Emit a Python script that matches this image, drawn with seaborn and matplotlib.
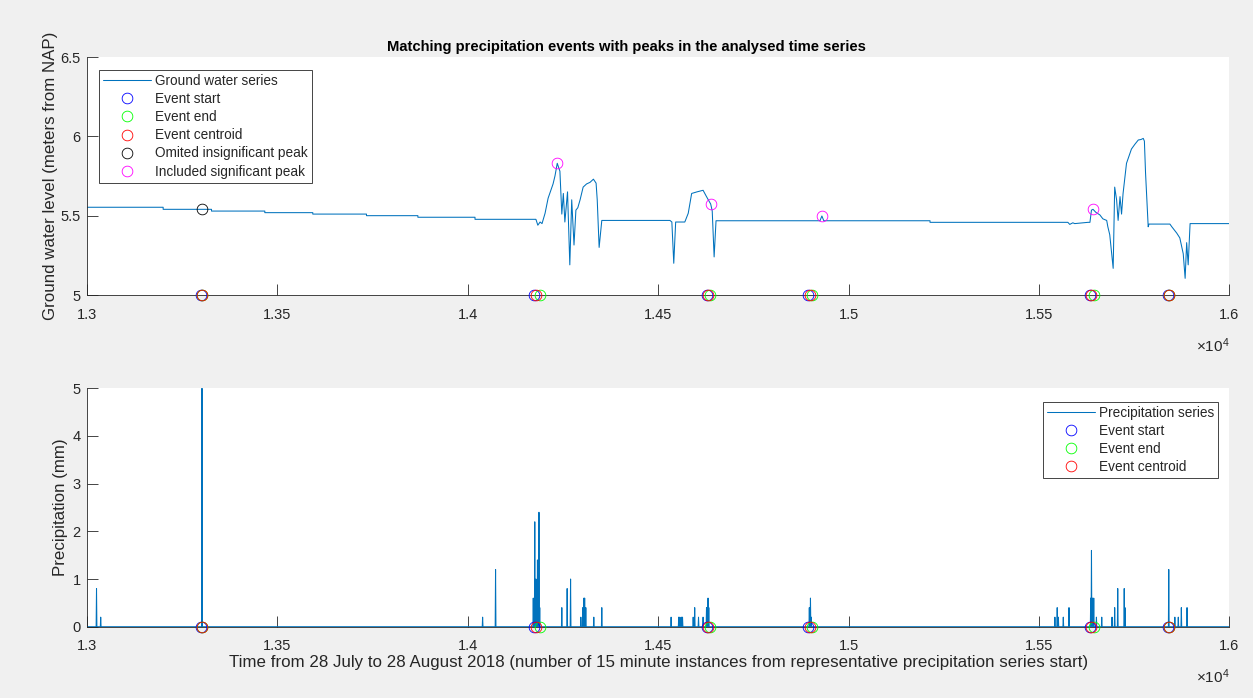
import numpy as np
import matplotlib
matplotlib.use("Agg")
import matplotlib.pyplot as plt
import seaborn as sns
from matplotlib.ticker import FuncFormatter, MultipleLocator

# ---------------------------------------------------------------------------
# Ground water level (m from NAP) - breakpoints of the recorded series
# ---------------------------------------------------------------------------
gw_time = [
    13000, 13200, 13200, 13327, 13327, 13467, 13467, 13593, 13593, 13734,
    13734, 13869, 13869, 14019, 14019, 14179, 14184, 14190, 14195, 14203,
    14211, 14224, 14229, 14235, 14242, 14247, 14251, 14255, 14262, 14268,
    14273, 14279, 14284, 14289, 14295, 14303, 14312, 14321, 14330, 14337,
    14340, 14345, 14352, 14531, 14536, 14541, 14546, 14570, 14579, 14588,
    14602, 14618, 14627, 14638, 14642, 14647, 14652, 14925, 14930, 14935,
    15214, 15214, 15576, 15581, 15589, 15594, 15629, 15634, 15638, 15642,
    15650, 15660, 15668, 15678, 15681, 15686, 15695, 15699, 15704, 15708,
    15713, 15717, 15721, 15730, 15743, 15752, 15761, 15768, 15774, 15777,
    15780, 15787, 15789, 15844, 15849, 15862, 15870, 15879, 15884, 15888,
    15892, 15897, 16000,
]
gw_level = [
    5.553, 5.553, 5.540, 5.540, 5.529, 5.529, 5.519, 5.519, 5.510, 5.510,
    5.500, 5.500, 5.490, 5.490, 5.477, 5.477, 5.440, 5.460, 5.450, 5.515,
    5.610, 5.700, 5.750, 5.830, 5.780, 5.510, 5.640, 5.460, 5.650, 5.190,
    5.600, 5.315, 5.535, 5.550, 5.600, 5.680, 5.700, 5.710, 5.730, 5.705,
    5.600, 5.300, 5.470, 5.470, 5.460, 5.200, 5.460, 5.460, 5.515, 5.640,
    5.650, 5.660, 5.620, 5.573, 5.530, 5.240, 5.468, 5.468, 5.498, 5.468,
    5.468, 5.458, 5.458, 5.445, 5.455, 5.450, 5.458, 5.458, 5.535, 5.540,
    5.520, 5.505, 5.480, 5.470, 5.430, 5.380, 5.168, 5.680, 5.600, 5.470,
    5.620, 5.510, 5.640, 5.830, 5.920, 5.950, 5.977, 5.980, 5.987, 5.970,
    5.770, 5.430, 5.447, 5.447, 5.430, 5.390, 5.360, 5.260, 5.105, 5.330,
    5.190, 5.450, 5.450,
]

# ---------------------------------------------------------------------------
# Precipitation (mm per 15 minute instance) - non-zero instances only
# ---------------------------------------------------------------------------
precip_start, precip_stop = 13000, 16000
precip_time = [
    13025, 13036, 13302, 14039, 14073, 14172, 14176, 14179, 14183, 14187,
    14189, 14247, 14261, 14270, 14297, 14302, 14305, 14307, 14310, 14331,
    14352, 14534, 14554, 14557, 14561, 14564, 14592, 14596, 14606, 14618,
    14627, 14631, 14633, 14897, 14900, 14902, 15542, 15548, 15551, 15564,
    15579, 15636, 15638, 15641, 15644, 15651, 15665, 15692, 15699, 15707,
    15724, 15726, 15841, 15857, 15866, 15874, 15889,
]
precip_mm = [
    0.8, 0.2, 5.0, 0.2, 1.2, 0.6, 2.2, 1.0, 1.4, 2.4,
    0.4, 0.4, 0.8, 1.0, 0.2, 0.4, 0.6, 0.6, 0.4, 0.2,
    0.4, 0.2, 0.2, 0.2, 0.2, 0.2, 0.2, 0.4, 0.2, 0.2,
    0.4, 0.6, 0.4, 0.4, 0.6, 0.2, 0.2, 0.4, 0.2, 0.2,
    0.4, 0.6, 1.6, 0.6, 0.6, 0.2, 0.2, 0.2, 0.4, 0.8,
    0.8, 0.4, 1.2, 0.2, 0.2, 0.4, 0.4,
]

# ---------------------------------------------------------------------------
# Precipitation events and matched ground water peaks
# ---------------------------------------------------------------------------
event_start = [13299, 14173, 14627, 14893, 15634, 15840]
event_end = [13301, 14189, 14636, 14904, 15644, 15841]
event_centroid = [13301, 14180, 14631, 14899, 15638, 15841]

omitted_peak_time = [13301]
omitted_peak_level = [5.54]
included_peak_time = [14235, 14638, 14930, 15641]
included_peak_level = [5.83, 5.573, 5.498, 5.54]

# level at which event markers are drawn in each panel
gw_event_level = 5.0
precip_event_level = 0.0

x_ticks = [13000, 13500, 14000, 14500, 15000, 15500, 16000]

# ---------------------------------------------------------------------------
sns.set_theme(style="white")
plt.rcParams["font.family"] = ["Liberation Sans", "DejaVu Sans"]
plt.rcParams["mathtext.fontset"] = "custom"
plt.rcParams["mathtext.rm"] = "Liberation Sans"
plt.rcParams["mathtext.it"] = "Liberation Sans:italic"

AX_COL = "#262626"
SERIES_COL = "#0072BD"
FIG_BG = "#F0F0F0"
MS = 7.7
MEW = 0.6

fig = plt.figure(figsize=(12.53, 6.98), dpi=100, facecolor=FIG_BG)
ax_gw = fig.add_axes([0.06943, 0.57736, 0.91166, 0.34097])
ax_p = fig.add_axes([0.06943, 0.10215, 0.91166, 0.34155])


def circles(ax, xs, ys, col, lab, z):
    sns.lineplot(x=xs, y=ys, ax=ax, estimator=None, sort=False, marker="o",
                 linestyle="none", color=col, markersize=MS,
                 markerfacecolor="none", markeredgecolor=col,
                 markeredgewidth=MEW, clip_on=False, label=lab, zorder=z)


def event_markers(ax, level):
    for times, col, lab in [(event_start, "#0000FF", "Event start"),
                            (event_end, "#00FF00", "Event end"),
                            (event_centroid, "#FF0000", "Event centroid")]:
        circles(ax, times, [level] * len(times), col, lab, 4)


# --- ground water panel ---
sns.lineplot(x=gw_time, y=gw_level, ax=ax_gw, estimator=None, sort=False,
             color=SERIES_COL, linewidth=0.75, label="Ground water series")
event_markers(ax_gw, gw_event_level)
circles(ax_gw, omitted_peak_time, omitted_peak_level, "black",
        "Omited insignificant peak", 5)
circles(ax_gw, included_peak_time, included_peak_level, "#FF00FF",
        "Included significant peak", 5)
ax_gw.set_ylim(5, 6.5)
ax_gw.yaxis.set_major_locator(MultipleLocator(0.5))
ax_gw.set_ylabel("Ground water level (meters from NAP)", fontsize=12.2,
                 color=AX_COL, labelpad=2)
fig.text(0.5, 1 - 51 / 698,
         "Matching precipitation events with peaks in the analysed time series",
         ha="center", va="baseline", fontsize=10.6, fontweight="bold",
         color="black")

# --- precipitation panel ---
p_time = np.arange(precip_start, precip_stop + 1)
p_vals = np.zeros(p_time.shape)
p_vals[np.searchsorted(p_time, precip_time)] = precip_mm
sns.lineplot(x=p_time, y=p_vals, ax=ax_p, estimator=None, sort=False,
             color=SERIES_COL, linewidth=0.75, label="Precipitation series")
event_markers(ax_p, precip_event_level)
ax_p.set_ylim(0, 5)
ax_p.yaxis.set_major_locator(MultipleLocator(1))
ax_p.set_ylabel("Precipitation (mm)", fontsize=12.2, color=AX_COL,
                labelpad=3)
ax_p.set_xlabel("Time from 28 July to 28 August 2018 (number of 15 minute "
                "instances from representative precipitation series start)",
                fontsize=12.2, color=AX_COL, labelpad=1)

xfmt = FuncFormatter(lambda v, _: f"{v / 1e4:g}")
yfmt = FuncFormatter(lambda v, _: f"{v:g}")
for ax in (ax_gw, ax_p):
    ax.set_facecolor("white")
    ax.set_xlim(precip_start, precip_stop)
    ax.set_xticks(x_ticks)
    ax.xaxis.set_major_formatter(xfmt)
    ax.yaxis.set_major_formatter(yfmt)
    for side in ("top", "right"):
        ax.spines[side].set_visible(False)
    for side in ("left", "bottom"):
        ax.spines[side].set_color(AX_COL)
        ax.spines[side].set_linewidth(0.6)
    ax.tick_params(direction="in", length=8, width=0.6, color=AX_COL,
                   labelcolor=AX_COL, labelsize=10.5,
                   bottom=True, left=True, top=False, right=False)
    ax.tick_params(axis="x", pad=9)
    ax.tick_params(axis="y", pad=4.5)
    ax.annotate(r"$\times\mathregular{10^{4}}$", xy=(1.0, 0),
                xycoords="axes fraction", xytext=(0, -29.5),
                textcoords="offset points", ha="right", va="top",
                fontsize=11, color=AX_COL)

leg_kw = dict(fontsize=9.8, frameon=True, fancybox=False, framealpha=1,
              edgecolor=AX_COL, borderaxespad=0, handlelength=3.5,
              handletextpad=0.3, labelspacing=0.3, borderpad=0.3)
lg = ax_gw.legend(loc="upper left", bbox_to_anchor=(0.0108, 0.9454), **leg_kw)
lg.get_frame().set_linewidth(0.6)
lp = ax_p.legend(loc="upper right", bbox_to_anchor=(0.9901, 0.9438), **leg_kw)
lp.get_frame().set_linewidth(0.6)

fig.savefig("out.png", dpi=100, facecolor=FIG_BG)
